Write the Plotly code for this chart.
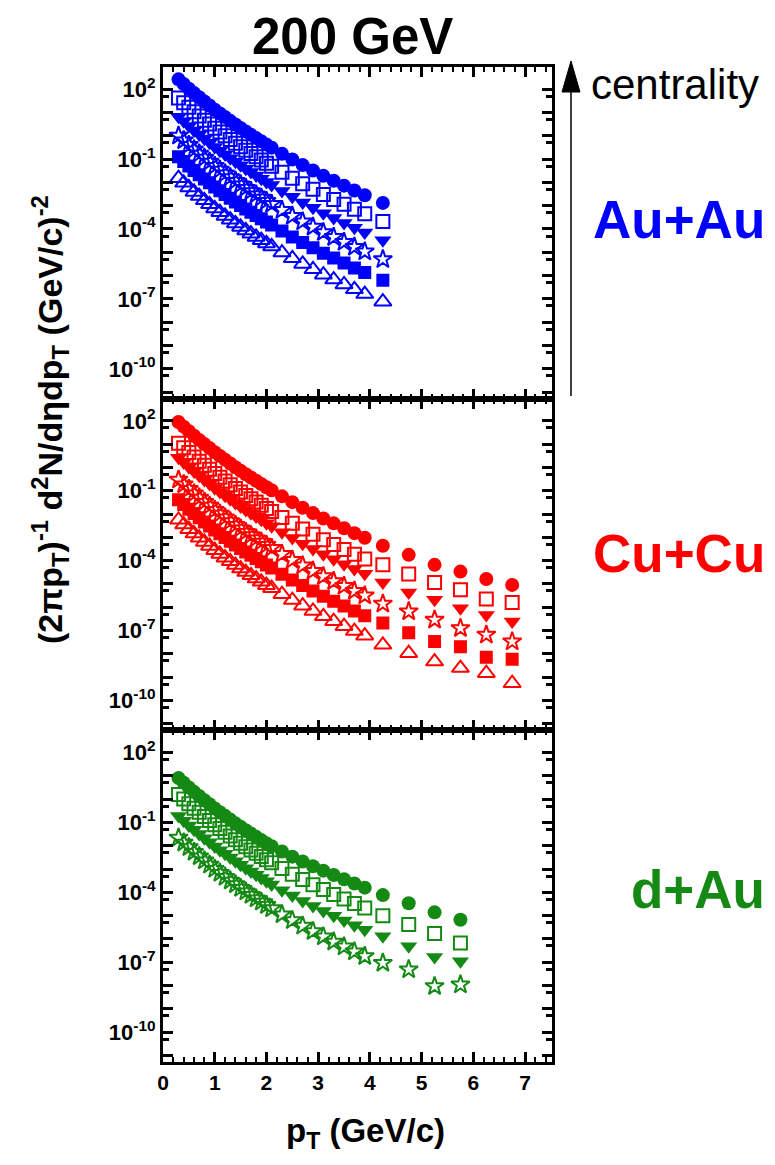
import plotly.graph_objects as go
from plotly.subplots import make_subplots

# transverse-momentum bin centres (GeV/c)
pt_auau = [0.3, 0.4, 0.5, 0.6, 0.7, 0.8, 0.9, 1.0, 1.1, 1.2, 1.3, 1.4, 1.5, 1.6, 1.7, 1.8, 1.9, 2.0,
           2.1, 2.3, 2.5, 2.7, 2.9, 3.1, 3.3, 3.5, 3.7, 3.9, 4.25]
pt_cucu = [0.3, 0.4, 0.5, 0.6, 0.7, 0.8, 0.9, 1.0, 1.1, 1.2, 1.3, 1.4, 1.5, 1.6, 1.7, 1.8, 1.9, 2.0,
           2.1, 2.3, 2.5, 2.7, 2.9, 3.1, 3.3, 3.5, 3.7, 3.9, 4.25, 4.75, 5.25, 5.75, 6.25, 6.75]
pt_dau = [0.3, 0.4, 0.5, 0.6, 0.7, 0.8, 0.9, 1.0, 1.1, 1.2, 1.3, 1.4, 1.5, 1.6, 1.7, 1.8, 1.9, 2.0,
          2.1, 2.3, 2.5, 2.7, 2.9, 3.1, 3.3, 3.5, 3.7, 3.9, 4.25, 4.75, 5.25, 5.75]

# log10 of the invariant yield, most central class first (classes are offset for display)
auau_1 = [2.42, 2.22, 2.02, 1.83, 1.65, 1.47, 1.30, 1.12, 0.96, 0.80, 0.64, 0.48, 0.33, 0.18, 0.04, -0.10, -0.24, -0.38,
          -0.51, -0.77, -1.02, -1.26, -1.49, -1.72, -1.93, -2.14, -2.35, -2.55, -2.88]
auau_2 = [1.62, 1.42, 1.22, 1.03, 0.85, 0.67, 0.50, 0.32, 0.16, 0.00, -0.16, -0.32, -0.47, -0.62, -0.76, -0.90, -1.04, -1.18,
          -1.31, -1.57, -1.82, -2.06, -2.29, -2.52, -2.73, -2.94, -3.15, -3.35, -3.68]
auau_3 = [0.82, 0.62, 0.42, 0.23, 0.05, -0.13, -0.30, -0.48, -0.64, -0.80, -0.96, -1.12, -1.27, -1.42, -1.56, -1.70, -1.84, -1.98,
          -2.11, -2.37, -2.62, -2.86, -3.09, -3.32, -3.53, -3.74, -3.95, -4.15, -4.48]
auau_4 = [0.00, -0.20, -0.40, -0.59, -0.77, -0.95, -1.12, -1.30, -1.46, -1.62, -1.78, -1.94, -2.09, -2.24, -2.38, -2.52, -2.66, -2.80,
          -2.93, -3.19, -3.44, -3.68, -3.91, -4.14, -4.35, -4.56, -4.77, -4.97, -5.30]
auau_5 = [-0.90, -1.10, -1.30, -1.49, -1.67, -1.85, -2.02, -2.20, -2.36, -2.52, -2.68, -2.84, -2.99, -3.14, -3.28, -3.42, -3.56, -3.70,
          -3.83, -4.09, -4.34, -4.58, -4.81, -5.04, -5.25, -5.46, -5.67, -5.87, -6.20]
auau_6 = [-1.82, -2.02, -2.22, -2.41, -2.59, -2.77, -2.94, -3.12, -3.28, -3.44, -3.60, -3.76, -3.91, -4.06, -4.20, -4.34, -4.48, -4.62,
          -4.75, -5.01, -5.26, -5.50, -5.73, -5.96, -6.17, -6.38, -6.59, -6.79, -7.12]

cucu_1 = [1.95, 1.75, 1.55, 1.36, 1.18, 1.00, 0.83, 0.65, 0.49, 0.33, 0.17, 0.01, -0.14, -0.29, -0.43, -0.57, -0.71, -0.85,
          -0.98, -1.24, -1.49, -1.73, -1.96, -2.19, -2.40, -2.61, -2.82, -3.02, -3.36, -3.75, -4.18, -4.47, -4.79, -5.04]
cucu_2 = [1.04, 0.84, 0.64, 0.45, 0.27, 0.09, -0.08, -0.26, -0.42, -0.58, -0.74, -0.90, -1.05, -1.20, -1.34, -1.48, -1.62, -1.76,
          -1.89, -2.15, -2.40, -2.64, -2.87, -3.10, -3.31, -3.52, -3.73, -3.93, -4.18, -4.57, -4.94, -5.25, -5.65, -5.80]
cucu_3 = [0.41, 0.21, 0.01, -0.18, -0.36, -0.54, -0.71, -0.89, -1.05, -1.21, -1.37, -1.53, -1.68, -1.83, -1.97, -2.11, -2.25, -2.39,
          -2.52, -2.78, -3.03, -3.27, -3.50, -3.73, -3.94, -4.15, -4.36, -4.56, -4.94, -5.37, -5.68, -6.04, -6.33, -6.61]
cucu_4 = [-0.53, -0.73, -0.93, -1.12, -1.30, -1.48, -1.65, -1.83, -1.99, -2.15, -2.31, -2.47, -2.62, -2.77, -2.91, -3.05, -3.19, -3.33,
          -3.46, -3.72, -3.97, -4.21, -4.44, -4.67, -4.88, -5.09, -5.30, -5.50, -5.85, -6.18, -6.54, -6.90, -7.18, -7.47]
cucu_5 = [-1.39, -1.59, -1.79, -1.98, -2.16, -2.34, -2.51, -2.69, -2.85, -3.01, -3.17, -3.33, -3.48, -3.63, -3.77, -3.91, -4.05, -4.19,
          -4.32, -4.58, -4.83, -5.07, -5.30, -5.53, -5.74, -5.95, -6.16, -6.36, -6.68, -7.09, -7.47, -7.69, -8.14, -8.23]
cucu_6 = [-2.25, -2.45, -2.65, -2.84, -3.02, -3.20, -3.37, -3.55, -3.71, -3.87, -4.03, -4.19, -4.34, -4.49, -4.63, -4.77, -4.91, -5.05,
          -5.18, -5.44, -5.69, -5.93, -6.16, -6.39, -6.60, -6.81, -7.02, -7.22, -7.61, -7.97, -8.33, -8.61, -8.83, -9.26]

dau_1 = [0.90, 0.70, 0.50, 0.31, 0.13, -0.05, -0.22, -0.40, -0.56, -0.72, -0.88, -1.04, -1.19, -1.34, -1.48, -1.62, -1.76, -1.90,
         -2.02, -2.25, -2.47, -2.68, -2.88, -3.07, -3.26, -3.44, -3.62, -3.80, -4.12, -4.47, -4.86, -5.18]
dau_2 = [0.20, 0.00, -0.20, -0.39, -0.57, -0.75, -0.92, -1.10, -1.26, -1.42, -1.58, -1.74, -1.89, -2.04, -2.18, -2.32, -2.46, -2.60,
         -2.73, -2.98, -3.22, -3.45, -3.67, -3.88, -4.09, -4.29, -4.48, -4.67, -5.00, -5.38, -5.77, -6.17]
dau_3 = [-0.73, -0.93, -1.13, -1.32, -1.50, -1.68, -1.85, -2.03, -2.19, -2.35, -2.51, -2.67, -2.82, -2.97, -3.11, -3.25, -3.39, -3.53,
         -3.66, -3.91, -4.14, -4.37, -4.59, -4.80, -5.01, -5.21, -5.41, -5.61, -5.88, -6.31, -6.77, -6.96]
dau_4 = [-1.66, -1.87, -2.07, -2.27, -2.46, -2.64, -2.82, -3.00, -3.17, -3.34, -3.50, -3.66, -3.82, -3.97, -4.12, -4.27, -4.41, -4.55,
         -4.69, -4.95, -5.20, -5.44, -5.67, -5.90, -6.12, -6.33, -6.54, -6.74, -7.03, -7.31, -8.03, -7.96]

# y-axis decades and the labelled ones
decade_exps = list(range(-11, 3))
labelled_exps = [2, -1, -4, -7, -10]
x_ticks = [0, 1, 2, 3, 4, 5, 6, 7]

BLUE = "#0000ff"
RED = "#ff0000"
GREEN = "#148a14"
FONT = "Liberation Sans, Arial, Helvetica, sans-serif"

# marker style per centrality class: (symbol, size, is_open)
styles = [
    ("circle", 14, False),
    ("square-open", 13, True),
    ("triangle-down", 15, False),
    ("star-open", 14, True),
    ("square", 13, False),
    ("triangle-up-open", 15, True),
]

fig = make_subplots(rows=3, cols=1, shared_xaxes=True, vertical_spacing=0)


def add_system(row, pt, series, color):
    for vals, (sym, size, is_open) in zip(series, styles):
        fig.add_trace(
            go.Scatter(
                x=pt[:len(vals)],
                y=[10 ** v for v in vals],
                mode="markers",
                marker=dict(symbol=sym, size=size, color=color,
                            line=dict(color=color, width=2 if is_open else 0)),
                showlegend=False,
                hoverinfo="skip",
            ),
            row=row, col=1,
        )


add_system(1, pt_auau, [auau_1, auau_2, auau_3, auau_4, auau_5, auau_6], BLUE)
add_system(2, pt_cucu, [cucu_1, cucu_2, cucu_3, cucu_4, cucu_5, cucu_6], RED)
add_system(3, pt_dau, [dau_1, dau_2, dau_3, dau_4], GREEN)

y_tickvals = [10.0 ** e for e in decade_exps]
y_ticktext = [f"<b>10<sup>{e}</sup></b>" if e in labelled_exps else "" for e in decade_exps]
y_minor = [5 * 10.0 ** (e - 1) for e in decade_exps]

for r in (1, 2, 3):
    fig.update_yaxes(
        type="log", range=[-11.28, 2.95],
        tickmode="array", tickvals=y_tickvals, ticktext=y_ticktext,
        ticks="inside", ticklen=10, tickwidth=2.5, tickcolor="black",
        minor=dict(tickmode="array", tickvals=y_minor, ticks="inside",
                   ticklen=6, tickwidth=2.5, tickcolor="black"),
        showline=True, linewidth=3, linecolor="black", mirror="allticks",
        showgrid=False, zeroline=False,
        tickfont=dict(family=FONT, size=22, color="black"),
        row=r, col=1,
    )
    fig.update_xaxes(
        range=[0, 7.52],
        tickmode="array", tickvals=x_ticks,
        ticks="inside", ticklen=10, tickwidth=2.5, tickcolor="black",
        minor=dict(dtick=0.2, tick0=0, ticks="inside", ticklen=5,
                   tickwidth=2, tickcolor="black"),
        showline=True, linewidth=3, linecolor="black", mirror="allticks",
        showgrid=False, zeroline=False,
        tickfont=dict(family=FONT, size=21, color="black", weight="bold"),
        row=r, col=1,
    )

# geometry helpers (pixel -> paper) for the frame spanning x 163..552, y 67..1062
L, R, T, B = 163, 552, 67, 1062


def px(x):
    return (x - L) / (R - L)


def py(y):
    return (B - y) / (B - T)


annotations = [
    dict(text="<b>200 GeV</b>", x=px(352), y=py(36), font=dict(size=51)),
    dict(text="centrality", x=px(589), y=py(84), xanchor="left", font=dict(size=42)),
    dict(text="<b>Au+Au</b>", x=px(767), y=py(219), xanchor="right", font=dict(size=53, color=BLUE)),
    dict(text="<b>Cu+Cu</b>", x=px(767), y=py(553), xanchor="right", font=dict(size=53, color=RED)),
    dict(text="<b>d+Au</b>", x=px(767), y=py(889), xanchor="right", font=dict(size=53, color=GREEN)),
    dict(text="<b>p<sub>T</sub> (GeV/c)</b>", x=px(365), y=py(1133), font=dict(size=33)),
    dict(text="<b>(2πp<sub>T</sub>)<sup>-1</sup> d<sup>2</sup>N/dηdp<sub>T</sub> (GeV/c)<sup>-2</sup></b>",
         x=px(50), y=py(420), textangle=-90, font=dict(size=34)),
]
for a in annotations:
    a.setdefault("xanchor", "center")
    a.update(xref="paper", yref="paper", yanchor="middle", showarrow=False)
    a["font"] = dict(family=FONT, color=a["font"].get("color", "black"), size=a["font"]["size"])
    fig.add_annotation(**a)

# centrality arrow on the right of the Au+Au panel
ax = px(571)
half_w = 9 / (R - L)
fig.add_shape(type="line", xref="paper", yref="paper",
              x0=ax, x1=ax, y0=py(396), y1=py(88),
              line=dict(color="black", width=1.5))
fig.add_shape(type="path", xref="paper", yref="paper",
              path=f"M {ax - half_w},{py(92)} L {ax + half_w},{py(92)} L {ax},{py(61)} Z",
              fillcolor="black", line=dict(color="black", width=1))

fig.update_layout(
    width=775, height=1165,
    margin=dict(l=L, r=775 - R, t=T, b=1165 - B),
    paper_bgcolor="white", plot_bgcolor="white",
    font=dict(family=FONT, color="black"),
    showlegend=False,
)

fig.write_html("out.html")
